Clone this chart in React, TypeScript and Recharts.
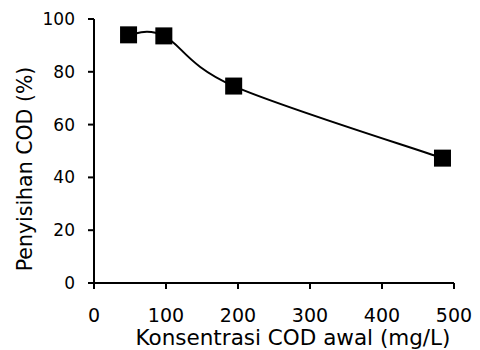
import React from "react";
import { LineChart, Line, XAxis, YAxis, Label } from "recharts";

const codInitial = [48, 97, 194, 484];
const codRemoval = [94, 93.6, 74.6, 47.3];
const xTicks = [0, 100, 200, 300, 400, 500];
const yTicks = [0, 20, 40, 60, 80, 100];

const data = codInitial.map((x, i) => ({ x, y: codRemoval[i] }));

// Excel-like smoothed line (Catmull-Rom style bezier)
function excelSmooth(context: any) {
  let pts: [number, number][] = [];
  return {
    areaStart() {},
    areaEnd() {},
    lineStart() {
      pts = [];
    },
    lineEnd() {
      if (!pts.length) return;
      context.moveTo(pts[0][0], pts[0][1]);
      for (let i = 0; i < pts.length - 1; i++) {
        const p0 = pts[i - 1] || pts[i];
        const p1 = pts[i];
        const p2 = pts[i + 1];
        const p3 = pts[i + 2] || p2;
        context.bezierCurveTo(
          p1[0] + (p2[0] - p0[0]) / 6,
          p1[1] + (p2[1] - p0[1]) / 6,
          p2[0] - (p3[0] - p1[0]) / 6,
          p2[1] - (p3[1] - p1[1]) / 6,
          p2[0],
          p2[1]
        );
      }
    },
    point(x: number, y: number) {
      pts.push([x, y]);
    },
  };
}

const SquareDot = (props: any) => {
  const { cx, cy, index } = props;
  if (cx == null || cy == null) return null;
  const s = 17;
  return <rect key={`sq-${index}`} x={cx - s / 2} y={cy - s / 2} width={s} height={s} fill="#000" />;
};

const FONT = "'DejaVu Sans', Verdana, sans-serif";

export default function App() {
  return (
    <div style={{ position: "absolute", left: 0, top: 0, width: 480, height: 350, background: "#fff" }}>
      <LineChart width={480} height={350} data={data} margin={{ top: 19, right: 26, bottom: 0, left: 0 }}>
        <XAxis
          dataKey="x"
          type="number"
          domain={[0, 500]}
          ticks={xTicks}
          height={67}
          tickSize={6}
          tickMargin={20}
          axisLine={{ stroke: "#000", strokeWidth: 2 }}
          tickLine={{ stroke: "#000", strokeWidth: 2 }}
          tick={{ fill: "#000", fontSize: 19, fontFamily: FONT }}
        >
          <Label
            value="Konsentrasi COD awal (mg/L)"
            position="insideBottom"
            offset={5}
            dx={19}
            style={{ fill: "#000", fontSize: 21.5, fontFamily: FONT }}
          />
        </XAxis>
        <YAxis
          dataKey="y"
          type="number"
          domain={[0, 100]}
          ticks={yTicks}
          width={94}
          tickSize={6}
          tickMargin={13}
          axisLine={{ stroke: "#000", strokeWidth: 2 }}
          tickLine={{ stroke: "#000", strokeWidth: 2 }}
          tick={{ fill: "#000", fontSize: 17, fontFamily: FONT }}
        >
          <Label
            value="Penyisihan COD (%)"
            position="center"
            angle={-90}
            dx={-22}
            dy={18}
            style={{ fill: "#000", fontSize: 20.5, fontFamily: FONT }}
          />
        </YAxis>
        <Line
          dataKey="y"
          type={excelSmooth as any}
          stroke="#000"
          strokeWidth={2}
          dot={<SquareDot />}
          activeDot={false}
          isAnimationActive={false}
        />
      </LineChart>
    </div>
  );
}
